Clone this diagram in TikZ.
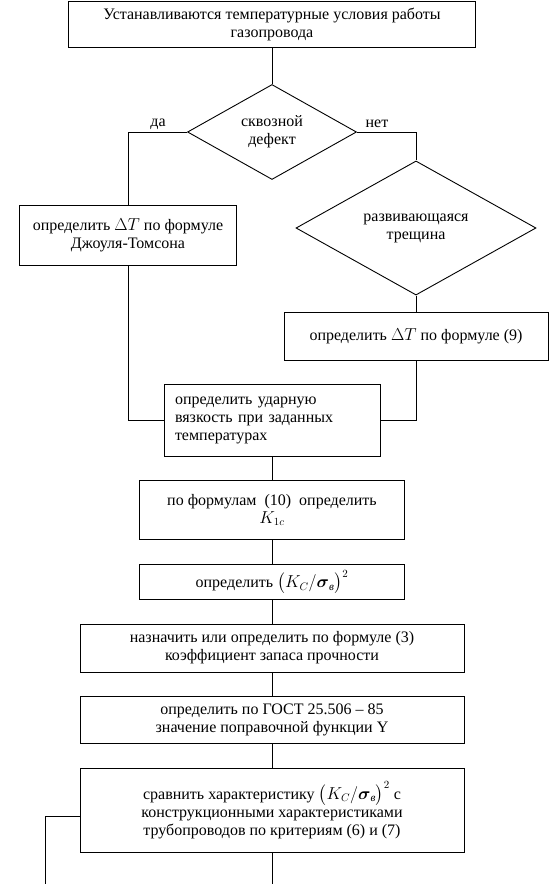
\documentclass[tikz,border=0pt]{standalone}
\usepackage{amsmath}
\usepackage{fontspec}
\setmainfont{Liberation Serif}
\usetikzlibrary{shapes.geometric,calc}

\tikzset{
  box/.style={draw, line width=0.9pt, align=center, inner sep=0pt,
              font=\fontsize{16}{18}\selectfont},
  decision/.style={draw, diamond, line width=0.9pt, align=center, inner sep=0pt,
              font=\fontsize{16}{18}\selectfont},
  lbl/.style={font=\fontsize{16}{18}\selectfont, inner sep=1pt},
  link/.style={line width=0.9pt},
}

\begin{document}
\begin{tikzpicture}[x=1pt, y=-1pt]
  \useasboundingbox (0,0) rectangle (551,884);

  \node[box, minimum width=407pt, minimum height=46pt] (start) at (272,24)
    {Устанавливаются температурные условия работы\\газопровода};
  \node[decision, minimum width=169pt, minimum height=95pt] (through) at (272,132)
    {сквозной\\дефект};
  \node[lbl] (yes) at (158,124) {да};
  \node[lbl] (no) at (377,124) {нет};

  \node[box, minimum width=217pt, minimum height=60pt] (joule) at (128,235)
    {определить $\Delta T$ по формуле\\Джоуля-Томсона};
  \node[decision, minimum width=240pt, minimum height=96pt] (crack) at (416,228)
    {развивающаяся\\трещина};
  \node[box, minimum width=264pt, minimum height=48pt] (form9) at (416,336)
    {определить $\Delta T$ по формуле (9)};

  \node[box, align=left, text width=194pt, inner xsep=11pt,
        minimum width=216pt, minimum height=72pt] (impact) at (272,420)
    {определить ударную\\вязкость при заданных\\температурах};
  \node[box, minimum width=265pt, minimum height=59pt] (kone) at (272,510)
    {по формулам~~(10)~~определить\\$K_{1c}$};
  \node[box, minimum width=265pt, minimum height=35pt] (ratio) at (272,582)
    {определить $\bigl(K_C/\boldsymbol{\sigma}_{\text{\itshape в}}\bigr)^2$};
  \node[box, minimum width=384pt, minimum height=48pt] (safety) at (272,648)
    {назначить или определить по формуле (3)\\коэффициент запаса прочности};
  \node[box, minimum width=384pt, minimum height=47pt] (gost) at (272,720)
    {определить по ГОСТ 25.506 – 85\\значение поправочной функции Y};
  \node[box, minimum width=384pt, minimum height=84pt] (compare) at (272,810)
    {сравнить характеристику $\bigl(K_C/\boldsymbol{\sigma}_{\text{\itshape в}}\bigr)^2$ с\\
     конструкционными характеристиками\\трубопроводов по критериям (6) и (7)};

  \coordinate (ret) at (45,816);
  \coordinate (retend) at (45,884);
  \coordinate (mainend) at (272,884);

  \draw[link] (start) -- (through);
  \draw[link] (through.west) -| (joule.north);
  \draw[link] (through.east) -| (crack.north);
  \draw[link] (crack) -- (form9);
  \draw[link] (joule.south) |- (impact.west);
  \draw[link] (form9.south) |- (impact.east);
  \draw[link] (impact) -- (kone);
  \draw[link] (kone) -- (ratio);
  \draw[link] (ratio) -- (safety);
  \draw[link] (safety) -- (gost);
  \draw[link] (gost) -- (compare);
  \draw[link] (compare) -- (mainend);
  \draw[link] (compare.west |- ret) -- (ret) -- (retend);
\end{tikzpicture}
\end{document}
